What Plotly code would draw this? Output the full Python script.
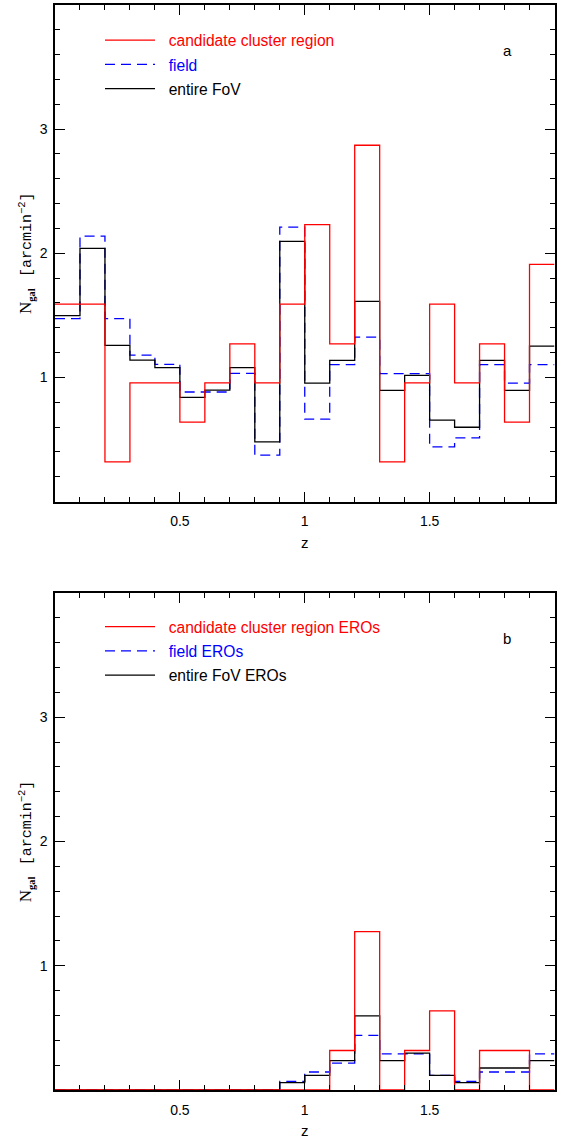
import plotly.graph_objects as go

# ---------------- data ----------------
z_edges = [0.0, 0.1, 0.2, 0.3, 0.4, 0.5, 0.6, 0.7, 0.8, 0.9, 1.0,
           1.1, 1.2, 1.3, 1.4, 1.5, 1.6, 1.7, 1.8, 1.9, 2.0]

# panel a : all galaxies
cluster_a = [1.59, 1.59, 0.32, 0.955, 0.955, 0.64, 0.955, 1.27, 0.955, 1.59,
             2.23, 1.27, 2.87, 0.32, 0.955, 1.59, 0.955, 1.27, 0.64, 1.91]
field_a = [1.474, 2.138, 1.474, 1.179, 1.104, 0.882, 0.882, 1.032, 0.373, 2.21,
           0.663, 1.102, 1.324, 1.03, 1.03, 0.44, 0.513, 1.102, 0.954, 1.102]
fov_a = [1.498, 2.039, 1.257, 1.139, 1.078, 0.839, 0.898, 1.078, 0.481, 2.095,
         0.954, 1.137, 1.613, 0.896, 1.016, 0.655, 0.598, 1.137, 0.896, 1.252]

# panel b : EROs
cluster_b = [0, 0, 0, 0, 0, 0, 0, 0, 0, 0,
             0, 0.318, 1.274, 0, 0.318, 0.637, 0, 0.318, 0.318, 0]
field_b = [0, 0, 0, 0, 0, 0, 0, 0, 0, 0.07,
           0.145, 0.217, 0.44, 0.29, 0.29, 0.118, 0.07, 0.145, 0.145, 0.29]
fov_b = [0, 0, 0, 0, 0, 0, 0, 0, 0, 0.059,
         0.118, 0.236, 0.597, 0.236, 0.297, 0.118, 0.059, 0.177, 0.177, 0.236]

names_a = ["candidate cluster region", "field", "entire FoV"]
names_b = ["candidate cluster region EROs", "field EROs", "entire FoV EROs"]
panel_labels = ["a", "b"]
x_tickvals = [0.5, 1, 1.5]
x_ticktext = ["0.5", "1", "1.5"]
y_tickvals = [1, 2, 3]

RED, BLUE, BLACK = "#ff0000", "#0000ff", "#000000"

W, H = 563, 1144


def px_x(x):
    return x / W


def px_y(y):
    return 1 - y / H


fig = go.Figure()


def step(vals):
    return list(vals) + [vals[-1]]


def add_panel(idx, cluster, field, fov, names):
    xa = "x" if idx == 1 else "x2"
    ya = "y" if idx == 1 else "y2"
    leg = "legend" if idx == 1 else "legend2"
    specs = [
        (field, names[1], BLUE, "10px,6px", 2),
        (fov, names[2], BLACK, "solid", 3),
        (cluster, names[0], RED, "solid", 1),
    ]
    for vals, name, col, dash, rank in specs:
        fig.add_trace(go.Scatter(
            x=z_edges, y=step(vals), mode="lines",
            line=dict(color=col, width=1.3, shape="hv", dash=dash),
            name='&nbsp;&nbsp;<span style="color:%s">%s</span>' % (col, name),
            xaxis=xa, yaxis=ya, legend=leg, legendrank=rank,
            legendgroup="%s_%d" % (leg, rank),
            showlegend=True, hoverinfo="skip",
        ))


add_panel(1, cluster_a, field_a, fov_a, names_a)
add_panel(2, cluster_b, field_b, fov_b, names_b)

xdom = [px_x(55), px_x(554.5)]
ydom_a = [px_y(501.5), px_y(5)]
ydom_b = [px_y(1090), px_y(593)]

tickfont = dict(family="Liberation Sans, Arial, sans-serif", size=14, color="black")
ytitle = ('<span style="font-family:Liberation Serif;font-size:17px">N</span>'
          '<sub><b>gal</b></sub>'
          '&nbsp;&nbsp;&nbsp;<span style="font-family:Liberation Mono">[arcmin<sup>−2</sup>]</span>')


def xaxis_cfg(anchor):
    return dict(
        domain=xdom, range=[0, 2], anchor=anchor,
        showline=True, linecolor="black", linewidth=1.5, mirror="allticks",
        ticks="inside", ticklen=10, tickwidth=1, tickcolor="black",
        tickmode="array", tickvals=x_tickvals, ticktext=x_ticktext,
        tickfont=tickfont, ticklabelstandoff=6,
        minor=dict(tickmode="linear", tick0=0, dtick=0.1, ticks="inside",
                   ticklen=5, tickwidth=1, tickcolor="black", showgrid=False),
        showgrid=False, zeroline=False,
        title=dict(text="z", font=dict(family="Liberation Sans, Arial", size=15,
                                       color="black"), standoff=9),
    )


def yaxis_cfg(domain, anchor):
    return dict(
        domain=domain, range=[0, 4], anchor=anchor,
        showline=True, linecolor="black", linewidth=1.5, mirror="allticks",
        ticks="inside", ticklen=10, tickwidth=1, tickcolor="black",
        tickmode="array", tickvals=y_tickvals,
        tickfont=tickfont, ticklabelstandoff=3,
        minor=dict(tickmode="linear", tick0=0, dtick=0.2, ticks="inside",
                   ticklen=5, tickwidth=1, tickcolor="black", showgrid=False),
        showgrid=False, zeroline=False,
        title=dict(text=ytitle, font=dict(family="Liberation Serif, Times New Roman, serif",
                                          size=15, color="black"), standoff=4),
    )


legend_common = dict(
    bgcolor="rgba(0,0,0,0)", borderwidth=0, xanchor="left", yanchor="top",
    font=dict(family="Liberation Sans, Arial, sans-serif", size=15.6),
    itemwidth=50, tracegroupgap=1, traceorder="grouped",
)

fig.update_layout(
    width=W, height=H,
    margin=dict(l=0, r=0, t=0, b=0),
    paper_bgcolor="white", plot_bgcolor="white",
    xaxis=xaxis_cfg("y"),
    yaxis=yaxis_cfg(ydom_a, "x"),
    xaxis2=xaxis_cfg("y2"),
    yaxis2=yaxis_cfg(ydom_b, "x2"),
    legend=dict(x=px_x(100), y=px_y(23.5), **legend_common),
    legend2=dict(x=px_x(100), y=px_y(610), **legend_common),
    annotations=[
        dict(x=1.81, y=3.63, xref="x", yref="y", text=panel_labels[0],
             showarrow=False, font=dict(family="Liberation Sans, Arial", size=15, color="black")),
        dict(x=1.81, y=3.63, xref="x2", yref="y2", text=panel_labels[1],
             showarrow=False, font=dict(family="Liberation Sans, Arial", size=15, color="black")),
    ],
    showlegend=True,
)

fig.write_html("out.html",
               config={"displayModeBar": False},
               post_script="document.body.style.margin='0px';document.body.style.overflow='hidden';")
